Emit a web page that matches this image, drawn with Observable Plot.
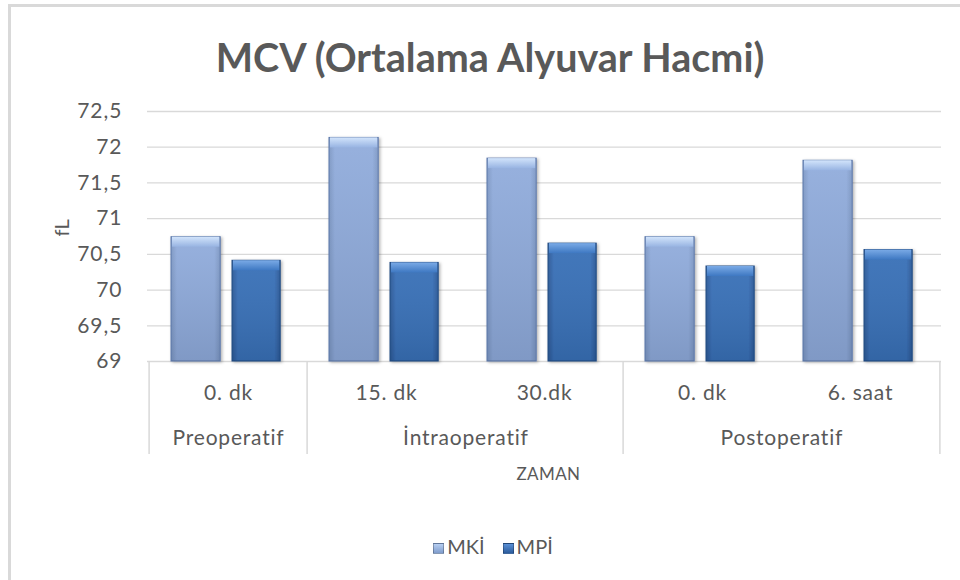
<!DOCTYPE html>
<html>
<head>
<meta charset="utf-8">
<script src="https://cdn.jsdelivr.net/npm/d3@7"></script>
<script src="https://cdn.jsdelivr.net/npm/@observablehq/plot@0.6"></script>
<style>
  html, body { margin: 0; padding: 0; background: #fff; }
  #wrap { position: relative; width: 960px; height: 580px; overflow: hidden; font-family: Lato, "Open Sans", sans-serif; color: #595959; }
  #frame { position: absolute; left: 8px; top: 4px; width: 1000px; height: 700px; border: 3px solid #d9d9d9; box-sizing: border-box; }
  #title { position: absolute; left: 0; width: 980px; top: 34px; text-align: center; font-size: 39.5px; line-height: 46px; font-weight: bold; color: #595959; }
  #chart { position: absolute; left: 0; top: 0; }
  #chart svg g.ytick text { letter-spacing: 1px; }
  #chart svg g.xtick text, #chart svg g.grp text { letter-spacing: 0.8px; }
  #chart svg g.xlab text { letter-spacing: 0.4px; }
  #legend { position: absolute; left: 0; width: 986px; top: 533px; text-align: center; font-size: 20px; line-height: 26px; color: #595959; }
  #legend span.item { margin: 0 9px; }
  #legend i { display: inline-block; width: 11px; height: 11px; margin-right: 3px; vertical-align: 0px; border: 1px solid rgba(0,0,0,0.25); box-sizing: border-box; }
</style>
</head>
<body>
<div id="wrap">
  <div id="frame"></div>
  <div id="chart"></div>
  <div id="title">MCV (Ortalama Alyuvar Hacmi)</div>
  <div id="legend"></div>
</div>
<script>
// ---- data ----
const keys = ["pre0", "intra15", "intra30", "post0", "post6"];
const categories = ["0. dk", "15. dk", "30.dk", "0. dk", "6. saat"];
const groups = ["Preoperatif", "İntraoperatif", "Postoperatif"];
const groupFirst = ["pre0", "intra15", "post0"];
const groupSpan = [1, 2, 2];
const series = ["MKİ", "MPİ"];
const mki = [70.74, 72.13, 71.84, 70.74, 71.81];
const mpi = [70.41, 70.38, 70.65, 70.33, 70.56];
const yTicks = [69, 69.5, 70, 70.5, 71, 71.5, 72, 72.5];
const yLabel = "fL";
const xLabel = "ZAMAN";

const dataMKI = keys.map((k, i) => ({key: k, value: mki[i]}));
const dataMPI = keys.map((k, i) => ({key: k, value: mpi[i]}));
const groupData = groups.map((g, i) => ({name: g, key: groupFirst[i], span: groupSpan[i]}));

const W = 960, H = 500;
const mL = 147, mR = 19, mT = 111, mB = H - 361;
const bw = (W - mL - mR) / keys.length;
const fmt = d => String(d).replace(".", ",");
const textColor = "#595959";
const gridColor = "#d9d9d9";

const plot = Plot.plot({
  width: W, height: H,
  marginLeft: mL, marginRight: mR, marginTop: mT, marginBottom: mB,
  style: {fontFamily: "Lato, 'Open Sans', sans-serif", color: textColor, background: "transparent", overflow: "visible"},
  x: {domain: keys, padding: 0},
  y: {domain: [69, 72.5]},
  marks: [
    Plot.gridY(yTicks.slice(1), {stroke: gridColor, strokeOpacity: 1, strokeWidth: 1.3}),
    Plot.ruleY([69], {stroke: gridColor, strokeWidth: 1.5}),
    Plot.ruleX(groupFirst, {x: d => d, dx: -bw / 2, insetTop: H - mT - mB, insetBottom: -93, stroke: gridColor, strokeWidth: 1.5}),
    Plot.ruleX([keys[keys.length - 1]], {x: d => d, dx: bw / 2, insetTop: H - mT - mB, insetBottom: -93, stroke: gridColor, strokeWidth: 1.5}),
    // MKİ bars
    Plot.barY(dataMKI, {x: "key", y1: 69, y2: "value", insetLeft: 22, insetRight: bw - 72, fill: "url(#gMKI)", stroke: "#5a76a8", strokeWidth: 1, className: "bar"}),
    Plot.barY(dataMKI, {x: "key", y1: 69, y2: "value", insetLeft: 22.5, insetRight: bw - 71.5, fill: "url(#vMKI)"}),
    Plot.barY(dataMKI, {x: "key", y1: "value", y2: "value", insetLeft: 23, insetRight: bw - 71, insetBottom: -10, fill: "url(#hMKI)"}),
    // MPİ bars
    Plot.barY(dataMPI, {x: "key", y1: 69, y2: "value", insetLeft: 83, insetRight: bw - 132, fill: "url(#gMPI)", stroke: "#214a82", strokeWidth: 1, className: "bar"}),
    Plot.barY(dataMPI, {x: "key", y1: 69, y2: "value", insetLeft: 83.5, insetRight: bw - 131.5, fill: "url(#vMPI)"}),
    Plot.barY(dataMPI, {x: "key", y1: "value", y2: "value", insetLeft: 84, insetRight: bw - 131, insetBottom: -10, fill: "url(#hMPI)"}),
    Plot.axisY(yTicks, {tickSize: 0, tickPadding: 25, tickFormat: fmt, fontSize: 21, fill: textColor, label: null, className: "ytick"}),
    Plot.axisX({tickSize: 0, tickPadding: 24, tickFormat: d => categories[keys.indexOf(d)], fontSize: 21, fill: textColor, label: null, className: "xtick"}),
    ...groupData.map(g => Plot.text([g], {x: "key", text: "name", frameAnchor: "bottom", dx: (g.span - 1) * bw / 2, dy: 83, fontSize: 21, fill: textColor, className: "grp"})),
    Plot.text([xLabel], {frameAnchor: "bottom", dx: 4, dy: 118, fontSize: 17, fill: textColor, className: "xlab"}),
    Plot.text([yLabel], {frameAnchor: "left", dx: -85, rotate: -90, fontSize: 20, fill: textColor})
  ]
});

// gradients for the bevelled bar look
const ns = "http://www.w3.org/2000/svg";
const defs = document.createElementNS(ns, "defs");
defs.innerHTML = `
  <linearGradient id="gMKI" x1="0" y1="0" x2="1" y2="0">
    <stop offset="0" stop-color="#7a95c2"/>
    <stop offset="0.12" stop-color="#8eaadb"/>
    <stop offset="0.88" stop-color="#8eaadb"/>
    <stop offset="1" stop-color="#7a95c2"/>
  </linearGradient>
  <linearGradient id="vMKI" x1="0" y1="0" x2="0" y2="1">
    <stop offset="0" stop-color="#ffffff" stop-opacity="0.08"/>
    <stop offset="1" stop-color="#000000" stop-opacity="0.1"/>
  </linearGradient>
  <linearGradient id="hMKI" x1="0" y1="0" x2="0" y2="1">
    <stop offset="0" stop-color="#d2e4fb"/>
    <stop offset="1" stop-color="#98b4e2"/>
  </linearGradient>
  <linearGradient id="gMPI" x1="0" y1="0" x2="1" y2="0">
    <stop offset="0" stop-color="#2b5896"/>
    <stop offset="0.12" stop-color="#386fb7"/>
    <stop offset="0.88" stop-color="#386fb7"/>
    <stop offset="1" stop-color="#2b5896"/>
  </linearGradient>
  <linearGradient id="vMPI" x1="0" y1="0" x2="0" y2="1">
    <stop offset="0" stop-color="#ffffff" stop-opacity="0.05"/>
    <stop offset="1" stop-color="#000000" stop-opacity="0.1"/>
  </linearGradient>
  <linearGradient id="hMPI" x1="0" y1="0" x2="0" y2="1">
    <stop offset="0" stop-color="#7aaae6"/>
    <stop offset="1" stop-color="#3e78c2"/>
  </linearGradient>
  <filter id="shadow" x="-20%" y="-5%" width="140%" height="115%">
    <feDropShadow dx="1.5" dy="1" stdDeviation="1.5" flood-color="#000" flood-opacity="0.3"/>
  </filter>`;
plot.insertBefore(defs, plot.firstChild);
plot.querySelectorAll("g.bar").forEach(g => g.setAttribute("filter", "url(#shadow)"));
document.getElementById("chart").appendChild(plot);

// legend
const legend = document.getElementById("legend");
const swatchBg = ["linear-gradient(#b7cff2, #7f9ccc)", "linear-gradient(#5a90d6, #2c5c9c)"];
series.forEach((s, i) => {
  const item = document.createElement("span");
  item.className = "item";
  const sw = document.createElement("i");
  sw.style.background = swatchBg[i];
  item.appendChild(sw);
  item.appendChild(document.createTextNode(s));
  legend.appendChild(item);
});
</script>
</body>
</html>
